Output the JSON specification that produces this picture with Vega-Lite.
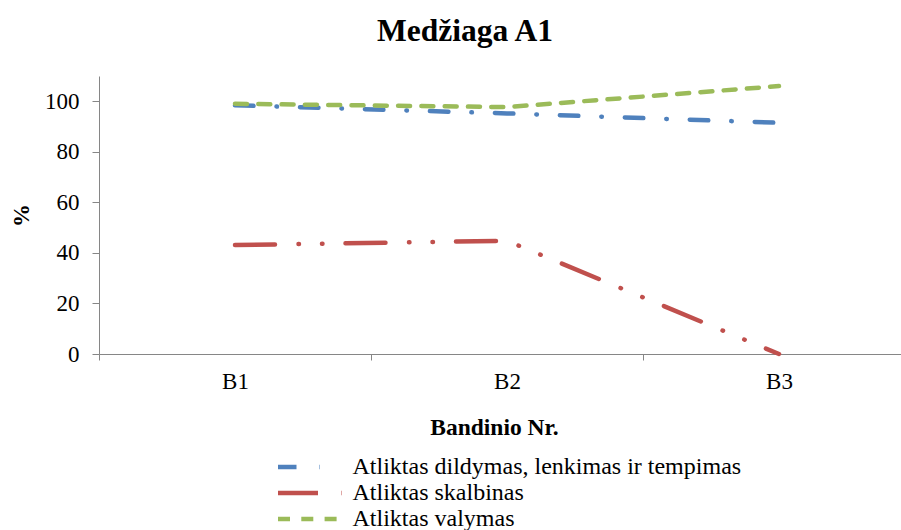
{
  "$schema": "https://vega.github.io/schema/vega-lite/v6.json",
  "width": 802,
  "height": 278,
  "autosize": {"type": "none"},
  "padding": {"left": 99, "top": 76, "right": 0, "bottom": 176},
  "background": "white",
  "title": {
    "text": "Medžiaga A1",
    "font": "Liberation Serif, Times New Roman, serif",
    "fontSize": 31.5,
    "fontWeight": "bold",
    "color": "black",
    "anchor": "middle",
    "dx": -35,
    "offset": 29
  },
  "data": {
    "values": [
      {"sample": "B1", "series": "Atliktas dildymas, lenkimas ir tempimas", "value": 98.4},
      {"sample": "B2", "series": "Atliktas dildymas, lenkimas ir tempimas", "value": 95.2},
      {"sample": "B3", "series": "Atliktas dildymas, lenkimas ir tempimas", "value": 91.5},
      {"sample": "B1", "series": "Atliktas skalbinas", "value": 43.1},
      {"sample": "B2", "series": "Atliktas skalbinas", "value": 44.8},
      {"sample": "B3", "series": "Atliktas skalbinas", "value": 0},
      {"sample": "B1", "series": "Atliktas valymas", "value": 99.0},
      {"sample": "B2", "series": "Atliktas valymas", "value": 97.7},
      {"sample": "B3", "series": "Atliktas valymas", "value": 106}
    ]
  },
  "mark": {"type": "line", "strokeWidth": 4.5, "strokeCap": "round", "strokeJoin": "round"},
  "encoding": {
    "x": {
      "field": "sample",
      "type": "ordinal",
      "bandPosition": 0.5,
      "scale": {"type": "band", "range": [0, 816], "paddingInner": 0, "paddingOuter": 0},
      "axis": {
        "title": "Bandinio Nr.",
        "grid": false,
        "tickBand": "extent",
        "domainColor": "#868686",
        "tickColor": "#868686",
        "tickSize": 6,
        "labelAngle": 0,
        "labelFont": "Liberation Serif, Times New Roman, serif",
        "labelFontSize": 23,
        "labelColor": "black",
        "labelPadding": 10,
        "titleFont": "Liberation Serif, Times New Roman, serif",
        "titleFontSize": 23.5,
        "titleFontWeight": "bold",
        "titleColor": "black",
        "titleX": 395,
        "titleY": 73,
        "titleBaseline": "middle"
      }
    },
    "y": {
      "field": "value",
      "type": "quantitative",
      "scale": {"domain": [0, 110], "nice": false, "zero": true},
      "axis": {
        "title": "%",
        "grid": false,
        "values": [0, 20, 40, 60, 80, 100],
        "domainColor": "#868686",
        "tickColor": "#868686",
        "tickSize": 7,
        "labelFont": "Liberation Serif, Times New Roman, serif",
        "labelFontSize": 23,
        "labelColor": "black",
        "labelPadding": 13,
        "titleFont": "Liberation Serif, Times New Roman, serif",
        "titleFontSize": 23,
        "titleFontWeight": "bold",
        "titleColor": "black",
        "titleX": -78,
        "titleY": 139,
        "titleBaseline": "middle",
        "titleAlign": "center"
      }
    },
    "color": {
      "field": "series",
      "type": "nominal",
      "scale": {
        "domain": ["Atliktas dildymas, lenkimas ir tempimas", "Atliktas skalbinas", "Atliktas valymas"],
        "range": ["#4F81BD", "#C0504D", "#9BBB59"]
      },
      "legend": {"title": null}
    },
    "strokeDash": {
      "field": "series",
      "type": "nominal",
      "scale": {
        "domain": ["Atliktas dildymas, lenkimas ir tempimas", "Atliktas skalbinas", "Atliktas valymas"],
        "range": [[18.5, 23, 0.5, 23], [40, 23.5, 0.5, 23, 0.5, 23], [12, 11.3]]
      },
      "legend": {"title": null}
    }
  },
  "config": {
    "view": {"stroke": null},
    "legend": {
      "orient": "none",
      "direction": "vertical",
      "columns": 1,
      "legendX": 199,
      "legendY": 379,
      "symbolType": "M-6.4,0H6.4",
      "symbolSize": 100,
      "symbolStrokeWidth": 4.5,
      "labelFont": "Liberation Serif, Times New Roman, serif",
      "labelFontSize": 24,
      "labelColor": "black",
      "labelOffset": 30.5,
      "labelLimit": 0,
      "rowPadding": 2,
      "padding": 0
    }
  }
}
